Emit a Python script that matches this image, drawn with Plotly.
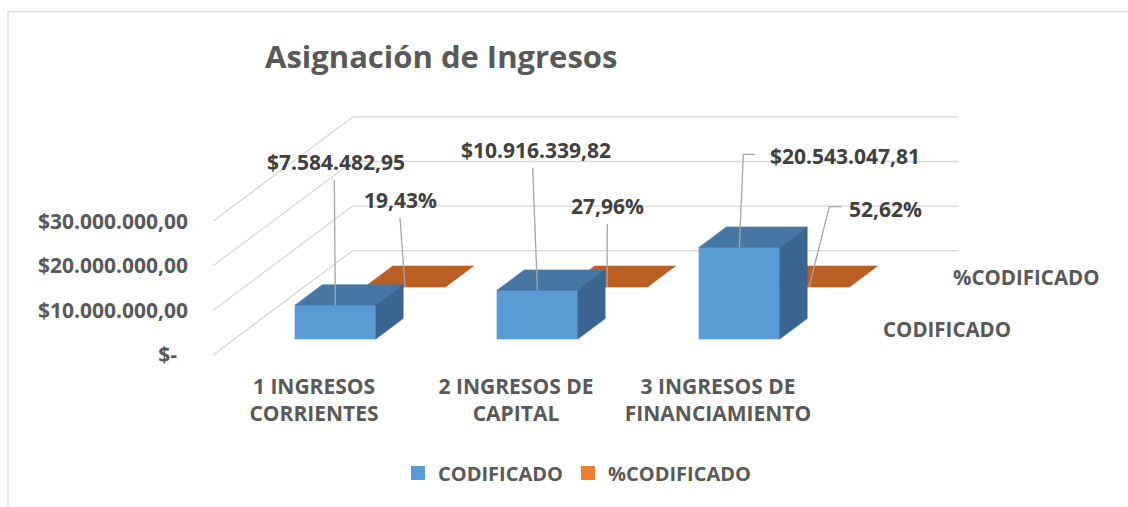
import plotly.graph_objects as go

# ---------------- data ----------------
categories = ["1 INGRESOS CORRIENTES", "2 INGRESOS DE CAPITAL", "3 INGRESOS DE FINANCIAMIENTO"]
category_tick_labels = ["1 INGRESOS<br>CORRIENTES", "2 INGRESOS DE<br>CAPITAL", "3 INGRESOS DE<br>FINANCIAMIENTO"]
codificado = [7584482.95, 10916339.82, 20543047.81]
pct_codificado = [0.1943, 0.2796, 0.5262]
series_names = ["CODIFICADO", "%CODIFICADO"]
y_tick_values = [0, 10000000, 20000000, 30000000]
y_tick_labels = ["$-\u00a0\u00a0", "$10.000.000,00", "$20.000.000,00", "$30.000.000,00"]
title_text = "Asignación de Ingresos"

# ---------------- layout geometry ----------------
W, H = 1128, 507
CAT_PX = 202.0          # pixel width of one category on the front plane
X0_PX = 213.0           # pixel x of the front-left corner of the floor
Y0_PX = 355.0           # pixel y of the front floor (value 0)
PX_PER_USD = 4.46e-6    # pixels per dollar
DEPTH_PX_X, DEPTH_PX_Y = 139.7, 104.3
DEPTH_X = DEPTH_PX_X / CAT_PX
DEPTH_Y = DEPTH_PX_Y / PX_PER_USD
BAR_HALF = 0.2
BLUE_T = (0.153, 0.349)
ORANGE_T = (0.652, 0.853)

BLUE_FRONT, BLUE_TOP, BLUE_SIDE = "#5b9bd5", "#4676a3", "#3a6590"
ORANGE_LEG, ORANGE_TOP = "#ed7d31", "#b95f23"
GRID = "#d9d9d9"
FONT = "Open Sans"


def px2x(px):
    return (px - X0_PX) / CAT_PX


def px2y(py):
    return (Y0_PX - py) / PX_PER_USD


def proj(x, y, t):
    return x + t * DEPTH_X, y + t * DEPTH_Y


def fmt_money(v):
    s = f"{v:,.2f}"
    return "$" + s.replace(",", "X").replace(".", ",").replace("X", ".")


def fmt_pct(p):
    return f"{p * 100:.2f}%".replace(".", ",")


fig = go.Figure()


def poly(points, color):
    xs = [p[0] for p in points] + [points[0][0]]
    ys = [p[1] for p in points] + [points[0][1]]
    fig.add_trace(go.Scatter(x=xs, y=ys, mode="lines", fill="toself", fillcolor=color,
                             line=dict(color=color, width=0.6), hoverinfo="skip",
                             showlegend=False))


# orange (back row) - nearly flat boxes
for i, p in enumerate(pct_codificado):
    x0, x1 = i + 0.5 - BAR_HALF, i + 0.5 + BAR_HALF
    tf, tb = ORANGE_T
    poly([proj(x0, p, tf), proj(x1, p, tf), proj(x1, p, tb), proj(x0, p, tb)], ORANGE_TOP)

# blue (front row)
for i, v in enumerate(codificado):
    x0, x1 = i + 0.5 - BAR_HALF, i + 0.5 + BAR_HALF
    tf, tb = BLUE_T
    poly([proj(x0, 0, tf), proj(x1, 0, tf), proj(x1, v, tf), proj(x0, v, tf)], BLUE_FRONT)
    poly([proj(x0, v, tf), proj(x1, v, tf), proj(x1, v, tb), proj(x0, v, tb)], BLUE_TOP)
    poly([proj(x1, 0, tf), proj(x1, v, tf), proj(x1, v, tb), proj(x1, 0, tb)], BLUE_SIDE)

# legend entries
fig.add_trace(go.Scatter(x=[None], y=[None], mode="markers", name=series_names[0],
                         marker=dict(symbol="square", size=14, color=BLUE_FRONT)))
fig.add_trace(go.Scatter(x=[None], y=[None], mode="markers", name=series_names[1],
                         marker=dict(symbol="square", size=14, color=ORANGE_LEG)))

# gridlines (walls)
shapes = []
ncat = len(categories)
for v in y_tick_values:
    bx, by = proj(0, v, 1)
    shapes.append(dict(type="line", xref="x", yref="y", x0=0, y0=v, x1=bx, y1=by,
                       line=dict(color=GRID, width=1.3), layer="below"))
    shapes.append(dict(type="line", xref="x", yref="y", x0=bx, y0=by, x1=bx + ncat, y1=by,
                       line=dict(color=GRID, width=1.3), layer="below"))
# chart border (left and top)
shapes.append(dict(type="path", xref="paper", yref="paper",
                   path=f"M {8 / W},0 L {8 / W},{1 - 11.7 / H} L 1,{1 - 11.7 / H}",
                   line=dict(color=GRID, width=1.3), layer="below"))

# data labels with leader lines
label_font = dict(family=FONT, size=21, color="#404040", weight="bold")
blue_label_pos = [(336, 161.7), (535.5, 150), (845, 156)]
blue_leader = [[(334.3, 180)], [(532.7, 167.7)], [(755, 154.3), (743.3, 154.3)]]
orange_label_pos = [(400, 200), (607, 206), (885, 209.3)]
orange_leader = [[(400, 218)], [(607.3, 224)], [(841.7, 206.7), (829.3, 206.7)]]

annotations = []
for i, v in enumerate(codificado):
    ax, ay = proj(i + 0.5, v, BLUE_T[0])
    pts = [(px2x(a), px2y(b)) for a, b in blue_leader[i]] + [(ax, ay)]
    fig.add_trace(go.Scatter(x=[p[0] for p in pts], y=[p[1] for p in pts], mode="lines",
                             line=dict(color="#a6a6a6", width=1.3), hoverinfo="skip",
                             showlegend=False))
    lx, ly = blue_label_pos[i]
    annotations.append(dict(x=px2x(lx), y=px2y(ly), xref="x", yref="y", text=fmt_money(v),
                            showarrow=False, font=label_font))
for i, p in enumerate(pct_codificado):
    ax, ay = proj(i + 0.5, p, ORANGE_T[0])
    pts = [(px2x(a), px2y(b)) for a, b in orange_leader[i]] + [(ax, ay)]
    fig.add_trace(go.Scatter(x=[q[0] for q in pts], y=[q[1] for q in pts], mode="lines",
                             line=dict(color="#a6a6a6", width=1.3), hoverinfo="skip",
                             showlegend=False))
    lx, ly = orange_label_pos[i]
    annotations.append(dict(x=px2x(lx), y=px2y(ly), xref="x", yref="y", text=fmt_pct(p),
                            showarrow=False, font=label_font))

# depth-axis (series) labels
axis_font = dict(family=FONT, size=21, color="#595959", weight="bold")
depth_font = dict(family=FONT, size=20.5, color="#595959", weight="bold")
for name, (tf, tb) in zip(series_names, [BLUE_T, ORANGE_T]):
    tc = (tf + tb) / 2
    x, y = proj(ncat, 0, tc)
    annotations.append(dict(x=x + 27 / CAT_PX, y=y, xref="x", yref="y", text=name,
                            showarrow=False, xanchor="left", yanchor="middle", font=depth_font))

fig.update_layout(
    width=W, height=H,
    margin=dict(l=0, r=0, t=0, b=0),
    paper_bgcolor="white", plot_bgcolor="white",
    title=dict(text=title_text, x=265 / W, xanchor="left", y=1 - 57 / H, yanchor="middle",
               font=dict(family=FONT, size=31, color="#595959", weight="bold")),
    xaxis=dict(range=[px2x(0), px2x(W)], domain=[0, 1], anchor="free", position=(H - Y0_PX) / H,
               tickmode="array", tickvals=[i + 0.5 for i in range(ncat)],
               ticktext=category_tick_labels, tickfont=axis_font, ticklabelstandoff=17,
               showgrid=False, zeroline=False, showline=False, ticks=""),
    yaxis=dict(range=[px2y(H), px2y(0)], domain=[0, 1], anchor="free", position=X0_PX / W,
               tickmode="array", tickvals=y_tick_values, ticktext=y_tick_labels,
               tickfont=axis_font, ticklabelstandoff=25,
               showgrid=False, zeroline=False, showline=False, ticks=""),
    legend=dict(orientation="h", x=398 / W, xanchor="left", y=1 - 473 / H, yanchor="middle",
                font=dict(family=FONT, size=20, color="#595959", weight="bold"),
                bgcolor="rgba(0,0,0,0)"),
    shapes=shapes,
    annotations=annotations,
    showlegend=True,
)

fig.write_html("out.html", config={"displayModeBar": False},
               post_script="document.body.style.margin='0';")
